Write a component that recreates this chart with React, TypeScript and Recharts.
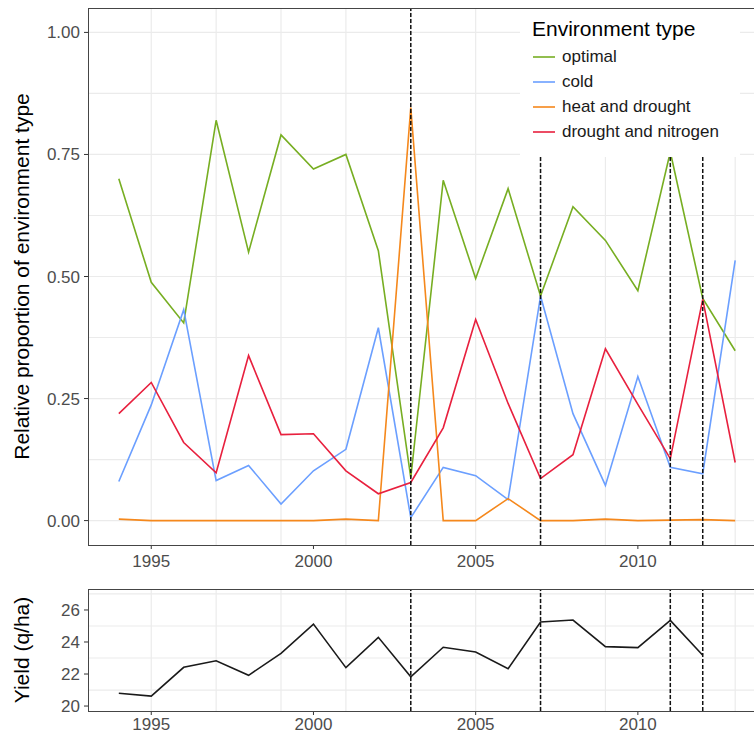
import { LineChart, Line, XAxis, YAxis, CartesianGrid, ReferenceLine, Legend, Label } from "recharts";

const years = [1994, 1995, 1996, 1997, 1998, 1999, 2000, 2001, 2002, 2003, 2004, 2005, 2006, 2007, 2008, 2009, 2010, 2011, 2012, 2013];
const optimal = [0.7, 0.488, 0.405, 0.82, 0.55, 0.79, 0.72, 0.75, 0.553, 0.088, 0.697, 0.496, 0.68, 0.46, 0.643, 0.574, 0.471, 0.755, 0.455, 0.348];
const cold = [0.08, 0.237, 0.432, 0.082, 0.113, 0.034, 0.102, 0.146, 0.395, 0.006, 0.109, 0.092, 0.043, 0.46, 0.219, 0.072, 0.295, 0.109, 0.096, 0.533];
const heatDrought = [0.003, 0, 0, 0, 0, 0, 0, 0.003, 0, 0.846, 0, 0, 0.045, 0, 0, 0.003, 0, 0.001, 0.002, 0];
const droughtNitrogen = [0.219, 0.283, 0.16, 0.098, 0.338, 0.176, 0.178, 0.102, 0.055, 0.078, 0.19, 0.412, 0.24, 0.086, 0.135, 0.352, 0.238, 0.127, 0.453, 0.119];
// no yield value for 2013
const yieldQha = [20.8, 20.62, 22.42, 22.83, 21.92, 23.29, 25.12, 22.4, 24.29, 21.83, 23.67, 23.37, 22.33, 25.25, 25.37, 23.71, 23.65, 25.35, 23.17];

const breakYears = [2003, 2007, 2011, 2012];
const xTicks = [1995, 2000, 2005, 2010];
const propTicks = [0, 0.25, 0.5, 0.75, 1];
const propGrid = [0, 0.125, 0.25, 0.375, 0.5, 0.625, 0.75, 0.875, 1];
const yieldTicks = [20, 22, 24, 26];
const yieldGrid = [20, 21, 22, 23, 24, 25, 26, 27];

const series = [
  { key: "optimal", name: "optimal", color: "#77ae22" },
  { key: "cold", name: "cold", color: "#6b9fff" },
  { key: "heat", name: "heat and drought", color: "#f5881c" },
  { key: "drought", name: "drought and nitrogen", color: "#e8203e" },
];

const propRows = years.map((year, i) => ({
  year,
  optimal: optimal[i],
  cold: cold[i],
  heat: heatDrought[i],
  drought: droughtNitrogen[i],
}));
const yieldRows = yieldQha.map((v, i) => ({ year: years[i], yield: v }));

const FONT = "'Liberation Sans', Arial, Helvetica, sans-serif";
const tickStyle = { fontSize: 17, fill: "#4d4d4d", fontFamily: FONT };
const gridColor = "#ebebeb";

const EnvLegend = () => (
  <div style={{ position: "relative", width: 220, height: 149, background: "#fff", fontFamily: FONT }}>
    <div style={{ position: "absolute", left: 12, top: 9, fontSize: 21, lineHeight: "24px", color: "#000", whiteSpace: "nowrap" }}>
      Environment type
    </div>
    {series.map((s, i) => (
      <div key={s.key} style={{ position: "absolute", left: 13, top: 36 + i * 25, height: 25, display: "flex", alignItems: "center" }}>
        <svg width={22} height={4} style={{ marginRight: 7 }}>
          <line x1={0} y1={2} x2={22} y2={2} stroke={s.color} strokeWidth={1.6} />
        </svg>
        <span style={{ fontSize: 17, color: "#1a1a1a", whiteSpace: "nowrap" }}>{s.name}</span>
      </div>
    ))}
  </div>
);

const border = (top: number, height: number) => (
  <div
    style={{
      position: "absolute",
      left: 88,
      top,
      width: 680,
      height,
      border: "1.5px solid #454545",
      boxSizing: "border-box",
      pointerEvents: "none",
    }}
  />
);

const App = () => {
  return (
    <div style={{ position: "fixed", left: 0, top: 0, width: 754, height: 735, overflow: "hidden", background: "#fff" }}>
      <div style={{ position: "absolute", left: 0, top: 0 }}>
        <LineChart width={780} height={570} data={propRows} margin={{ top: 8, right: 14, bottom: 0, left: 0 }}>
          <CartesianGrid stroke={gridColor} strokeWidth={1.2} verticalValues={years} horizontalValues={propGrid} />
          <XAxis
            dataKey="year"
            type="number"
            domain={[1993.05, 2013.95]}
            allowDataOverflow
            ticks={xTicks}
            height={25}
            axisLine={false}
            tickSize={4}
            tickMargin={6}
            tickLine={{ stroke: "#333" }}
            tick={tickStyle}
          />
          <YAxis
            type="number"
            domain={[-0.05, 1.05]}
            allowDataOverflow
            ticks={propTicks}
            width={88}
            axisLine={false}
            tickSize={4}
            tickMargin={4}
            tickLine={{ stroke: "#333" }}
            tick={tickStyle}
            tickFormatter={(v: number) => v.toFixed(2)}
          >
            <Label
              value="Relative proportion of environment type"
              angle={-90}
              position="insideLeft"
              offset={22}
              style={{ textAnchor: "middle", fontSize: 21, fill: "#000", fontFamily: FONT }}
            />
          </YAxis>
          {series.map((s) => (
            <Line
              key={s.key}
              type="linear"
              dataKey={s.key}
              name={s.name}
              stroke={s.color}
              strokeWidth={1.6}
              dot={false}
              isAnimationActive={false}
            />
          ))}
          {breakYears.map((y) => (
            <ReferenceLine key={y} x={y} stroke="#111" strokeWidth={1.5} strokeDasharray="4 2" />
          ))}
          <Legend
            layout="vertical"
            align="center"
            verticalAlign="middle"
            content={() => <EnvLegend />}
            wrapperStyle={{ left: 520, top: 8, width: 220, height: 149, right: "auto", bottom: "auto" }}
          />
        </LineChart>
        {border(8, 538)}
      </div>
      <div style={{ position: "absolute", left: 0, top: 560 }}>
        <LineChart width={780} height={175} data={yieldRows} margin={{ top: 29, right: 14, bottom: 0, left: 0 }}>
          <CartesianGrid stroke={gridColor} strokeWidth={1.2} verticalValues={years} horizontalValues={yieldGrid} />
          <XAxis
            dataKey="year"
            type="number"
            domain={[1993.05, 2013.95]}
            allowDataOverflow
            ticks={xTicks}
            height={24}
            axisLine={false}
            tickSize={4}
            tickMargin={3}
            tickLine={{ stroke: "#333" }}
            tick={tickStyle}
          />
          <YAxis
            type="number"
            domain={[19.69, 27.31]}
            allowDataOverflow
            ticks={yieldTicks}
            width={88}
            axisLine={false}
            tickSize={4}
            tickMargin={4}
            tickLine={{ stroke: "#333" }}
            tick={tickStyle}
          >
            <Label
              value="Yield (q/ha)"
              angle={-90}
              position="insideLeft"
              offset={22}
              style={{ textAnchor: "middle", fontSize: 21, fill: "#000", fontFamily: FONT }}
            />
          </YAxis>
          <Line type="linear" dataKey="yield" stroke="#1a1a1a" strokeWidth={1.6} dot={false} isAnimationActive={false} />
          {breakYears.map((y) => (
            <ReferenceLine key={y} x={y} stroke="#111" strokeWidth={1.5} strokeDasharray="4 2" />
          ))}
        </LineChart>
        {border(29, 123)}
      </div>
    </div>
  );
};

export default App;
